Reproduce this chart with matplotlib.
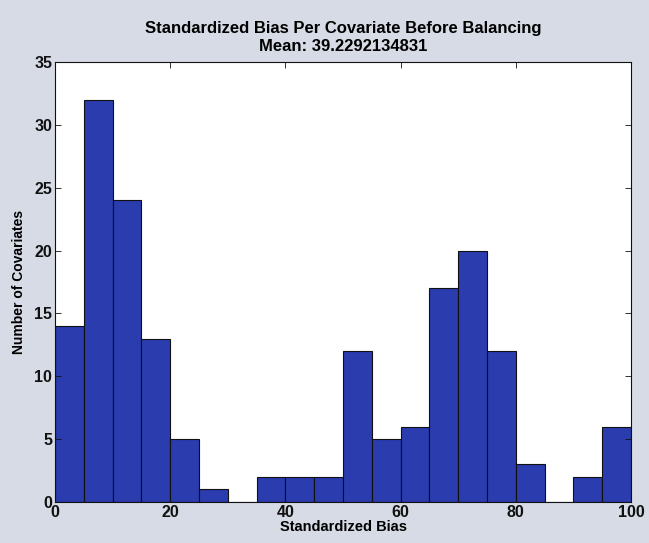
import matplotlib.pyplot as plt
import numpy as np

# histogram data (bin width 5, range 0-100)
bin_edges = list(range(0, 105, 5))
counts = [14, 32, 24, 13, 5, 1, 0, 2, 2, 2, 12, 5, 6, 17, 20, 12, 3, 0, 2, 6]
x_ticks = [0, 20, 40, 60, 80, 100]
y_ticks = [0, 5, 10, 15, 20, 25, 30, 35]

plt.rcParams['font.family'] = ['Liberation Sans', 'DejaVu Sans']

fig = plt.figure(figsize=(6.49, 5.43), dpi=100)
fig.patch.set_facecolor('#d6dbe5')
ax = fig.add_axes([55 / 649, 1 - 502 / 543, 576 / 649, 440 / 543])
ax.set_facecolor('white')

ax.bar(bin_edges[:-1], counts, width=np.diff(bin_edges), align='edge',
       color='#2a3cae', edgecolor='#111111', linewidth=0.8)

ax.set_xlim(0, 100)
ax.set_ylim(0, 35)
ax.set_xticks(x_ticks)
ax.set_yticks(y_ticks)
ax.tick_params(direction='in', top=True, right=True, length=4, width=0.6,
               labelsize=11.5, colors='#111111', pad=2)
for lbl in ax.get_xticklabels() + ax.get_yticklabels():
    lbl.set_fontweight('bold')
for s in ax.spines.values():
    s.set_linewidth(0.8)
    s.set_color('#111111')

ax.set_xlabel('Standardized Bias', fontsize=10.5, fontweight='bold', labelpad=0)
ax.set_ylabel('Number of Covariates', fontsize=10, fontweight='bold', labelpad=6)
ax.set_title('Standardized Bias Per Covariate Before Balancing\nMean: 39.2292134831',
             fontsize=12, fontweight='bold', pad=8, linespacing=1.25)

plt.savefig('out.png', dpi=100, facecolor=fig.get_facecolor())
